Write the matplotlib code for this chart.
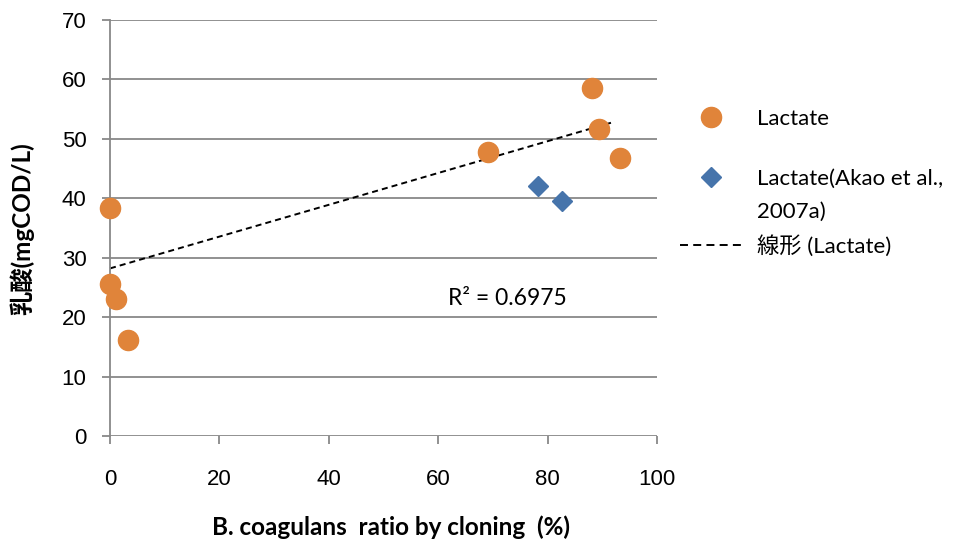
import matplotlib
matplotlib.use("Agg")
import matplotlib.pyplot as plt
from matplotlib.lines import Line2D

plt.rcParams['font.family'] = ['Lato', 'Noto Sans CJK JP', 'DejaVu Sans']

# cloning ratio (%) vs lactate (mgCOD/L)
lactate_ratio = [0.0, 0.0, 1.1, 3.3, 69.1, 88.1, 89.4, 93.2]
lactate_cod = [38.4, 25.6, 23.0, 16.2, 47.8, 58.6, 51.7, 46.8]

akao_ratio = [78.2, 82.6]
akao_cod = [42.1, 39.5]

# linear trend for the Lactate series (end points)
trend_ratio = [0.0, 92.3]
trend_cod = [28.2, 52.9]
r2_text = "R² = 0.6975"

x_ticks = [0, 20, 40, 60, 80, 100]
y_ticks = [0, 10, 20, 30, 40, 50, 60, 70]

ORANGE = '#E0843A'
BLUE = '#4674AB'
GRID = '#888888'

W, H = 965, 548
fig = plt.figure(figsize=(W / 100, H / 100), dpi=100)
ax = fig.add_axes([110 / W, 1 - 436 / H, (657 - 110) / W, (436 - 20) / H])

ax.set_xlim(0, 100)
ax.set_ylim(0, 70)
ax.set_xticks(x_ticks)
ax.set_yticks(y_ticks)
ax.grid(axis='y', color=GRID, linewidth=1.3)
ax.set_axisbelow(True)
for side in ['top', 'right', 'bottom']:
    ax.spines[side].set_visible(False)
ax.spines['left'].set_color(GRID)
ax.spines['left'].set_linewidth(1.3)
ax.tick_params(axis='both', colors=GRID, length=6, width=1.3, labelsize=16,
               labelcolor='black')
ax.tick_params(axis='x', pad=18)
ax.tick_params(axis='y', pad=11)
for lbl in ax.get_xticklabels() + ax.get_yticklabels():
    lbl.set_family('Liberation Sans')

ax.plot(trend_ratio, trend_cod, color='black', linestyle=(0, (3.1, 2.1)), linewidth=1.4,
        clip_on=False, zorder=2)
ax.plot(lactate_ratio, lactate_cod, linestyle='none', marker='o', markersize=14.5,
        color=ORANGE, clip_on=False, zorder=3)
ax.plot(akao_ratio, akao_cod, linestyle='none', marker='D', markersize=10,
        color=BLUE, clip_on=False, zorder=3)

ax.text(72.6, 23.2, r2_text, ha='center', va='center', fontsize=16.5)

fig.text(391 / W, 1 - 527 / H, "B. coagulans  ratio by cloning  (%)",
         ha='center', va='center', fontsize=17.5, fontweight='bold')
fig.text(22 / W, 1 - 229 / H, "乳酸(mgCOD/L)", rotation=90,
         ha='center', va='center', fontsize=17.5, fontweight='bold')

fs = 16
fs_px = fs * 100 / 72
h_orange = Line2D([], [], linestyle='none', marker='o', markersize=14.5, color=ORANGE)
h_blue = Line2D([], [], linestyle='none', marker='D', markersize=10, color=BLUE)
h_none = Line2D([], [], linestyle='none')
h_trend = Line2D([], [], color='black', linestyle=(0, (4.1, 2.7)), linewidth=1.4)

common = dict(frameon=False, fontsize=fs, borderpad=0, borderaxespad=0,
              handlelength=62 / fs_px, handletextpad=15 / fs_px, loc='center left')
fig.legend([h_orange], ["Lactate"], bbox_to_anchor=(680 / W, 1 - 119 / H), **common)
fig.legend([h_blue, h_none, h_trend],
           ["Lactate(Akao et al.,", "2007a)", "線形 (Lactate)"],
           bbox_to_anchor=(680 / W, 1 - 213 / H), labelspacing=0.6, **common)

fig.savefig("out.png", dpi=100)
